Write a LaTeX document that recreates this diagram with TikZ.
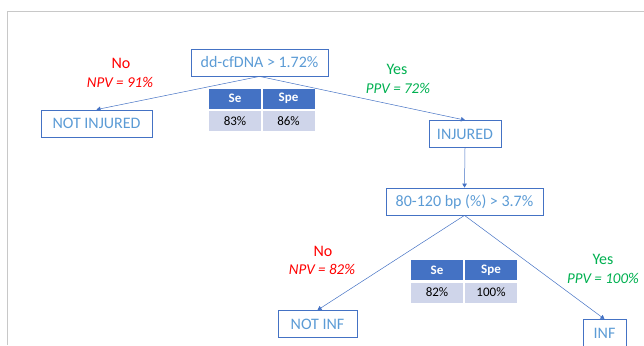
\documentclass[tikz,border=0pt]{standalone}
\usepackage{fontspec}
\setmainfont{Carlito}
\usetikzlibrary{shapes,arrows.meta}
\definecolor{boxblue}{RGB}{68,114,196}
\definecolor{txtblue}{RGB}{91,155,213}
\definecolor{nored}{RGB}{255,0,0}
\definecolor{yesgreen}{RGB}{0,176,80}
\definecolor{cellfill}{RGB}{207,213,234}
\definecolor{framegray}{RGB}{200,200,200}

\begin{document}
\begin{tikzpicture}[x=1pt,y=-1pt,
  decision/.style={shape=rectangle,draw=boxblue,text=txtblue,line width=0.8pt,minimum height=27pt,inner sep=0pt,font=\fontsize{16}{19}\selectfont},
  answer/.style={inner sep=0pt,font=\fontsize{16}{19}\selectfont},
  value/.style={inner sep=0pt,font=\fontsize{15}{18}\selectfont\itshape},
  headcell/.style={shape=rectangle,fill=boxblue,text=white,minimum width=52pt,minimum height=20pt,inner sep=0pt,font=\fontsize{13}{15}\selectfont\bfseries},
  datacell/.style={shape=rectangle,fill=cellfill,text=black,minimum width=52pt,minimum height=20pt,inner sep=0pt,font=\fontsize{13}{15}\selectfont},
  link/.style={->,draw=boxblue,line width=0.5pt},
  >={Triangle[length=4pt,width=4.5pt]}]
\useasboundingbox (0,0) rectangle (644,345);
\draw[framegray,line width=0.8pt] (7,345) -- (7,11) -- (644,11);

\node[decision,minimum width=137pt] (0) at (259.5,62.5) {dd-cfDNA > 1.72\%};
\node[decision,minimum width=111pt] (1) at (96.5,123.5) {NOT INJURED};
\node[decision,minimum width=72pt] (2) at (465,134) {INJURED};
\node[decision,minimum width=157pt] (3) at (464.5,201.5) {80-120 bp (\%) > 3.7\%};
\node[decision,minimum width=79pt] (4) at (317.5,324) {NOT INF};
\node[decision,minimum width=43pt] (5) at (604.5,333) {INF};

\node[answer,text=nored] (6) at (121,63) {No};
\node[value,text=nored] (7) at (120,82) {NPV = 91\%};
\node[answer,text=yesgreen] (8) at (397,69) {Yes};
\node[value,text=yesgreen] (9) at (398,88) {PPV = 72\%};
\node[answer,text=nored] (10) at (323,251) {No};
\node[value,text=nored] (11) at (322,269) {NPV = 82\%};
\node[answer,text=yesgreen] (12) at (603,259) {Yes};
\node[value,text=yesgreen] (13) at (603,278) {PPV = 100\%};

\node[headcell] (14) at (235,98.5) {Se};
\node[headcell] (15) at (288.5,98.5) {Spe};
\node[datacell] (16) at (235,121) {83\%};
\node[datacell] (17) at (288.5,121) {86\%};
\node[headcell] (18) at (437,270) {Se};
\node[headcell] (19) at (491,270) {Spe};
\node[datacell] (20) at (437,292.5) {82\%};
\node[datacell] (21) at (491,292.5) {100\%};

\path (0.south) edge [link] node {} (1.north);
\path (0.south) edge [link] node {} (2.north);
\path (2.south) edge [link] node {} (3.north);
\path (3.south) edge [link] node {} (4.north);
\path (3.south) edge [link] node {} (5.north);
\end{tikzpicture}
\end{document}
